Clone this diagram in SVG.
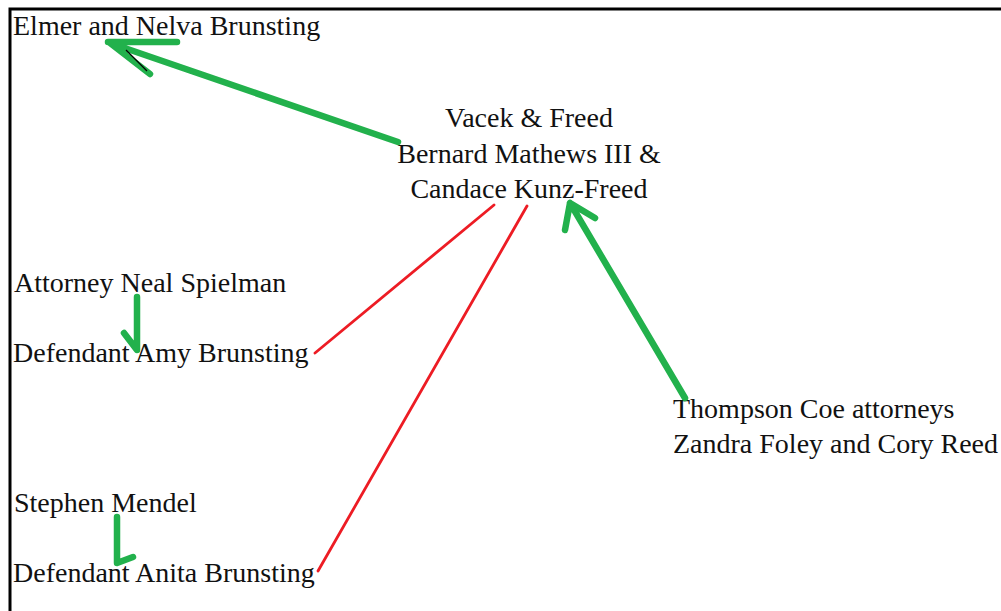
<svg xmlns="http://www.w3.org/2000/svg" width="1001" height="611" viewBox="0 0 1001 611">
<style>
text{font-family:"Liberation Serif","Times New Roman",serif;font-size:28px;fill:#111}
.g{stroke:#22b14c;stroke-width:6.5;fill:none;stroke-linecap:round;stroke-linejoin:round}
.r{stroke:#ed1c24;stroke-width:2.8;fill:none;stroke-linecap:round}
</style>
<rect x="0" y="0" width="1001" height="611" fill="#fff"/>
<path d="M10 1100 V9 H1100" fill="none" stroke="#000" stroke-width="3"/>
<g id="elmer"><text x="13" y="35">Elmer and Nelva Brunsting</text></g>
<g id="vacek"><text x="529" y="127" text-anchor="middle">Vacek &amp; Freed</text><text x="529" y="163" text-anchor="middle">Bernard Mathews III &amp;</text><text x="529" y="198" text-anchor="middle">Candace Kunz-Freed</text></g>
<g id="spielman"><text x="14" y="292">Attorney Neal Spielman</text></g>
<g id="amy"><text x="13" y="362">Defendant Amy Brunsting</text></g>
<g id="mendel"><text x="14" y="512">Stephen Mendel</text></g>
<g id="anita"><text x="13" y="582">Defendant Anita Brunsting</text></g>
<g id="thompson"><text x="673" y="418">Thompson Coe attorneys</text><text x="673" y="453">Zandra Foley and Cory Reed</text></g>
<g id="connectors">
<path class="g" d="M398 142 L110 43 M108 42 H177 M110 43 L150 74"/>
<path d="M126 50 L147 71" stroke="#000" stroke-width="1.2"/>
<path class="g" d="M685 398 L570 203 M570 203 L565 230 M570 203 L595 218"/>
<path class="g" d="M137 297 V350 L124 333"/>
<path class="g" d="M117 517 V563 L133 557"/>
<path class="r" d="M494 205 L315 353"/>
<path class="r" d="M527 206 L318 571"/>
</g>
</svg>
